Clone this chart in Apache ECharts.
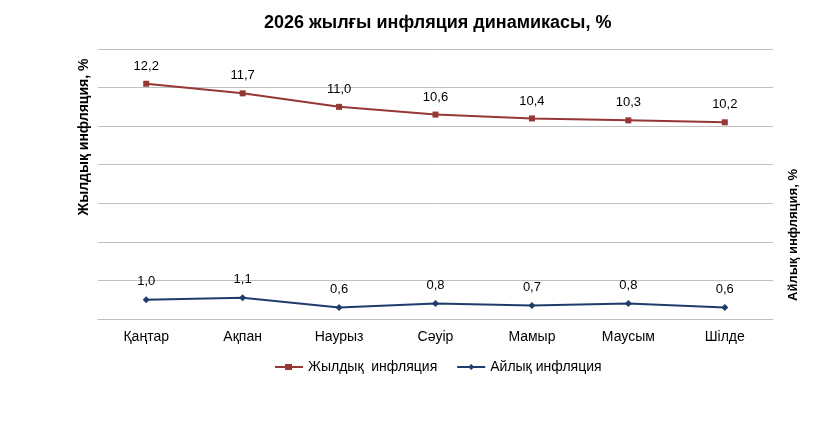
<!DOCTYPE html>
<html>
<head>
<meta charset="utf-8">
<script src="https://cdn.jsdelivr.net/npm/echarts@6/dist/echarts.min.js"></script>
<style>
  html, body { margin: 0; padding: 0; background: #fff; }
  #chart { width: 834px; height: 438px; }
</style>
</head>
<body>
<div id="chart"></div>
<script>
const months = ["Қаңтар", "Ақпан", "Наурыз", "Сәуір", "Мамыр", "Маусым", "Шілде"];
const annualInflation = [12.2, 11.7, 11.0, 10.6, 10.4, 10.3, 10.2];
const monthlyInflation = [1.0, 1.1, 0.6, 0.8, 0.7, 0.8, 0.6];

const fontFamily = "Liberation Sans, Arial, sans-serif";
const formatComma = (p) => p.value.toFixed(1).replace(".", ",");

const chart = echarts.init(document.getElementById("chart"));
const option = {
  animation: false,
  textStyle: { fontFamily: fontFamily },
  title: {
    text: "2026 жылғы инфляция динамикасы, %",
    left: 259,
    top: 9,
    textStyle: { fontSize: 18, fontWeight: "bold", color: "#000", fontFamily: fontFamily },
  },
  grid: { left: 98, right: 61, top: 49, bottom: 119 },
  legend: {
    top: 355,
    left: 270,
    itemWidth: 28,
    itemHeight: 8,
    itemGap: 20,
    textStyle: { fontSize: 14, color: "#000", fontFamily: fontFamily },
    data: [
      { name: "Жылдық  инфляция", icon: "path://M0,3H28V5H0Z M10,1H17V7H10Z" },
      { name: "Айлық инфляция", icon: "path://M0,3H28V5H0Z M14,1L17,4L14,7L11,4Z" },
    ],
  },
  xAxis: {
    type: "category",
    data: months,
    axisLine: { lineStyle: { color: "#bfbfbf" } },
    axisTick: { show: false },
    axisLabel: { color: "#000", fontSize: 14, margin: 11 },
  },
  yAxis: [
    {
      type: "value",
      min: 0,
      max: 14,
      interval: 2,
      axisLabel: { show: false },
      axisLine: { show: false },
      axisTick: { show: false },
      splitLine: { lineStyle: { color: "#bfbfbf" } },
    },
    {
      type: "value",
      min: 0,
      max: 14,
      interval: 2,
      axisLabel: { show: false },
      axisLine: { show: false },
      axisTick: { show: false },
      splitLine: { show: false },
    },
  ],
  graphic: [
    {
      type: "text",
      x: 84,
      y: 137,
      rotation: Math.PI / 2,
      style: {
        text: "Жылдық инфляция, %",
        fill: "#000",
        font: "bold 14px " + fontFamily,
        align: "center",
        verticalAlign: "middle",
      },
    },
    {
      type: "text",
      x: 793,
      y: 235,
      rotation: Math.PI / 2,
      style: {
        text: "Айлық инфляция, %",
        fill: "#000",
        font: "bold 13px " + fontFamily,
        align: "center",
        verticalAlign: "middle",
      },
    },
  ],
  series: [
    {
      name: "Жылдық  инфляция",
      type: "line",
      yAxisIndex: 0,
      data: annualInflation,
      symbol: "rect",
      symbolSize: 6,
      lineStyle: { color: "#953735", width: 2 },
      itemStyle: { color: "#953735" },
      label: { show: true, position: "top", distance: 8, color: "#000", fontSize: 13, formatter: formatComma },
    },
    {
      name: "Айлық инфляция",
      type: "line",
      yAxisIndex: 1,
      data: monthlyInflation,
      symbol: "diamond",
      symbolSize: 7,
      lineStyle: { color: "#1f3d6b", width: 2 },
      itemStyle: { color: "#1f3d6b" },
      label: { show: true, position: "top", distance: 8, color: "#000", fontSize: 13, formatter: formatComma },
    },
  ],
};
chart.setOption(option);
</script>
</body>
</html>
